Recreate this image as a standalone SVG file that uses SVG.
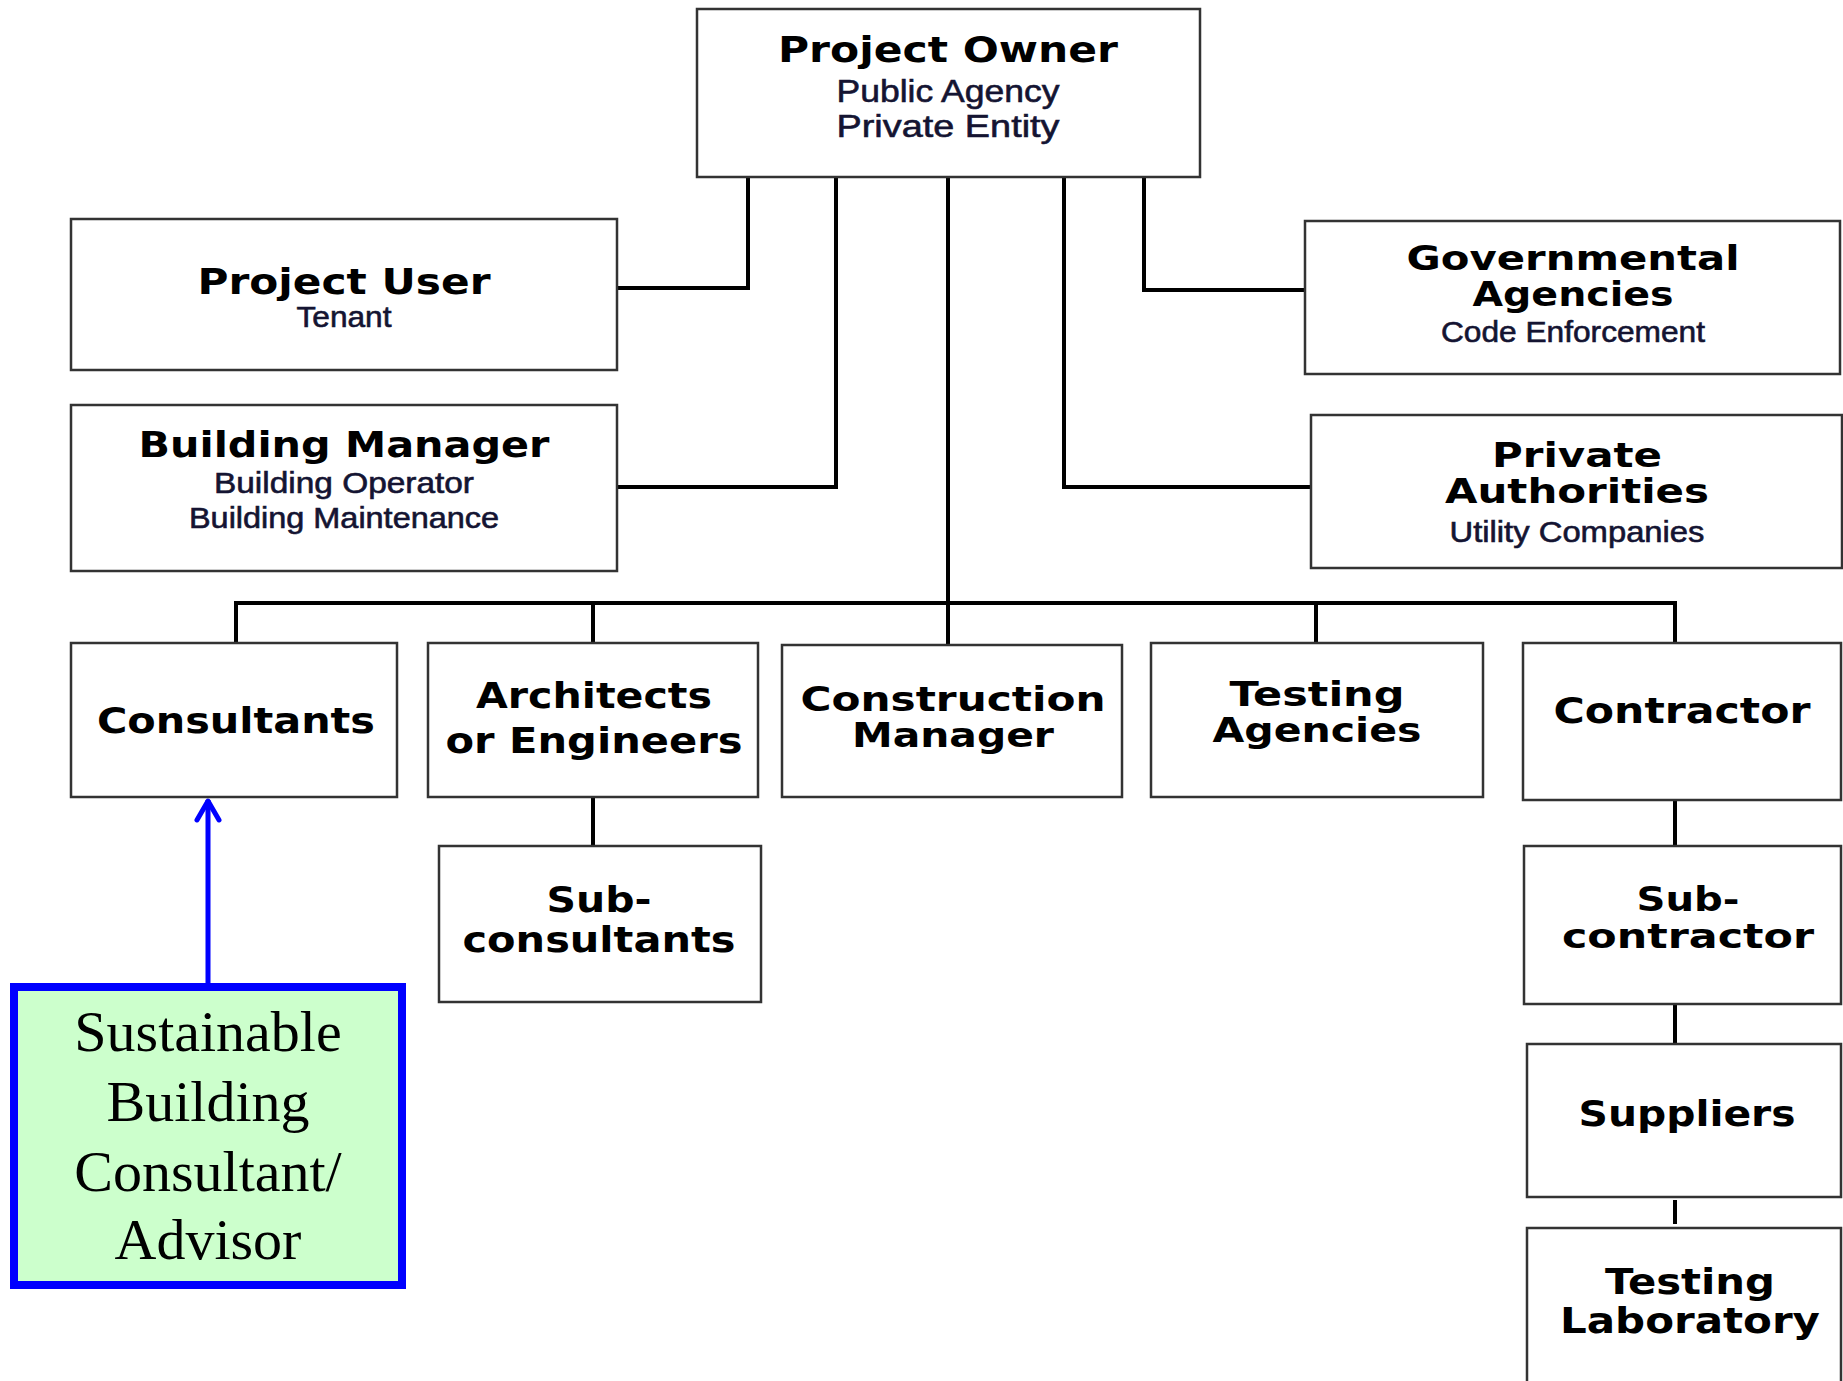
<svg xmlns="http://www.w3.org/2000/svg" width="1843" height="1381" viewBox="0 0 1843 1381">
<style>
.box{fill:#fff;stroke:#333;stroke-width:2.5}
.t{font-family:"DejaVu Sans","Liberation Sans",sans-serif;font-weight:bold;font-size:36px;fill:#000;text-anchor:middle}
.tt{font-size:33px}
.s{font-family:"Liberation Sans","DejaVu Sans",sans-serif;font-size:32px;fill:#141432;stroke:#141432;stroke-width:0.6;text-anchor:middle}
.c{fill:none;stroke:#000;stroke-width:4}
.g{font-family:"Liberation Serif","Times New Roman",serif;font-size:58px;fill:#000;text-anchor:middle}
</style>
<rect width="1843" height="1381" fill="#fff"/>
<g id="connectors">
<path class="c" d="M748 177V288H617"/>
<path class="c" d="M836 177V487H617"/>
<path class="c" d="M948 177V645"/>
<path class="c" d="M1064 177V487H1311"/>
<path class="c" d="M1144 177V290H1305"/>
<path class="c" d="M236 643V603H1675V643"/>
<path class="c" d="M593 603V643"/>
<path class="c" d="M1316 603V643"/>
<path class="c" d="M593 797V846"/>
<path class="c" d="M1675 800V846"/>
<path class="c" d="M1675 1004V1044"/>
<path class="c" d="M1675 1200V1224"/>
<path d="M208 983V800" fill="none" stroke="#0000ff" stroke-width="5"/>
<path d="M197 820L208 801L219 820" fill="none" stroke="#0000ff" stroke-width="5" stroke-linecap="round" stroke-linejoin="round"/>
</g>
<g id="project-owner">
<rect class="box" x="697" y="9" width="503" height="168"/>
<text class="t" x="948" y="62" textLength="340" lengthAdjust="spacingAndGlyphs">Project Owner</text>
<text class="s" x="948" y="102" textLength="223" lengthAdjust="spacingAndGlyphs">Public Agency</text>
<text class="s" x="948" y="137" textLength="223" lengthAdjust="spacingAndGlyphs">Private Entity</text>
</g>
<g id="project-user">
<rect class="box" x="71" y="219" width="546" height="151"/>
<text class="t" x="344" y="294" textLength="293" lengthAdjust="spacingAndGlyphs">Project User</text>
<text class="s" x="344" y="327" textLength="95" lengthAdjust="spacingAndGlyphs" style="font-size:30px">Tenant</text>
</g>
<g id="building-manager">
<rect class="box" x="71" y="405" width="546" height="166"/>
<text class="t" x="344" y="457" textLength="411" lengthAdjust="spacingAndGlyphs">Building Manager</text>
<text class="s" x="344" y="493" textLength="260" lengthAdjust="spacingAndGlyphs" style="font-size:29px">Building Operator</text>
<text class="s" x="344" y="528" textLength="310" lengthAdjust="spacingAndGlyphs" style="font-size:29px">Building Maintenance</text>
</g>
<g id="governmental-agencies">
<rect class="box" x="1305" y="221" width="535" height="153"/>
<text class="t tt" x="1573" y="270" textLength="333" lengthAdjust="spacingAndGlyphs">Governmental</text>
<text class="t tt" x="1573" y="306" textLength="201" lengthAdjust="spacingAndGlyphs">Agencies</text>
<text class="s" x="1573" y="342" textLength="264" lengthAdjust="spacingAndGlyphs" style="font-size:29px">Code Enforcement</text>
</g>
<g id="private-authorities">
<rect class="box" x="1311" y="415" width="531" height="153"/>
<text class="t tt" x="1577" y="467" textLength="170" lengthAdjust="spacingAndGlyphs">Private</text>
<text class="t tt" x="1577" y="503" textLength="264" lengthAdjust="spacingAndGlyphs">Authorities</text>
<text class="s" x="1577" y="542" textLength="255" lengthAdjust="spacingAndGlyphs" style="font-size:29px">Utility Companies</text>
</g>
<g id="consultants">
<rect class="box" x="71" y="643" width="326" height="154"/>
<text class="t" x="236" y="733" textLength="278" lengthAdjust="spacingAndGlyphs">Consultants</text>
</g>
<g id="architects-engineers">
<rect class="box" x="428" y="643" width="330" height="154"/>
<text class="t" x="594" y="708" textLength="236" lengthAdjust="spacingAndGlyphs">Architects</text>
<text class="t" x="594" y="753" textLength="297" lengthAdjust="spacingAndGlyphs">or Engineers</text>
</g>
<g id="construction-manager">
<rect class="box" x="782" y="645" width="340" height="152"/>
<text class="t tt" x="953" y="711" textLength="305" lengthAdjust="spacingAndGlyphs">Construction</text>
<text class="t tt" x="953" y="747" textLength="202" lengthAdjust="spacingAndGlyphs">Manager</text>
</g>
<g id="testing-agencies">
<rect class="box" x="1151" y="643" width="332" height="154"/>
<text class="t tt" x="1317" y="706" textLength="175" lengthAdjust="spacingAndGlyphs">Testing</text>
<text class="t tt" x="1317" y="742" textLength="209" lengthAdjust="spacingAndGlyphs">Agencies</text>
</g>
<g id="contractor">
<rect class="box" x="1523" y="643" width="318" height="157"/>
<text class="t" x="1682" y="723" textLength="257" lengthAdjust="spacingAndGlyphs">Contractor</text>
</g>
<g id="sub-consultants">
<rect class="box" x="439" y="846" width="322" height="156"/>
<text class="t" x="599" y="912" textLength="105" lengthAdjust="spacingAndGlyphs">Sub-</text>
<text class="t" x="599" y="952" textLength="273" lengthAdjust="spacingAndGlyphs">consultants</text>
</g>
<g id="sub-contractor">
<rect class="box" x="1524" y="846" width="317" height="158"/>
<text class="t tt" x="1688" y="911" textLength="103" lengthAdjust="spacingAndGlyphs">Sub-</text>
<text class="t tt" x="1688" y="948" textLength="252" lengthAdjust="spacingAndGlyphs">contractor</text>
</g>
<g id="suppliers">
<rect class="box" x="1527" y="1044" width="314" height="153"/>
<text class="t" x="1687" y="1126" textLength="217" lengthAdjust="spacingAndGlyphs">Suppliers</text>
</g>
<g id="testing-laboratory">
<rect class="box" x="1527" y="1228" width="314" height="170"/>
<text class="t" x="1690" y="1294" textLength="170" lengthAdjust="spacingAndGlyphs">Testing</text>
<text class="t" x="1690" y="1333" textLength="260" lengthAdjust="spacingAndGlyphs">Laboratory</text>
</g>
<g id="sustainable-consultant">
<rect x="14" y="987" width="388" height="298" fill="#ccffcc" stroke="#0000ff" stroke-width="8"/>
<text class="g" x="208" y="1051">Sustainable</text>
<text class="g" x="208" y="1121">Building</text>
<text class="g" x="208" y="1191">Consultant/</text>
<text class="g" x="208" y="1259">Advisor</text>
</g>
</svg>
